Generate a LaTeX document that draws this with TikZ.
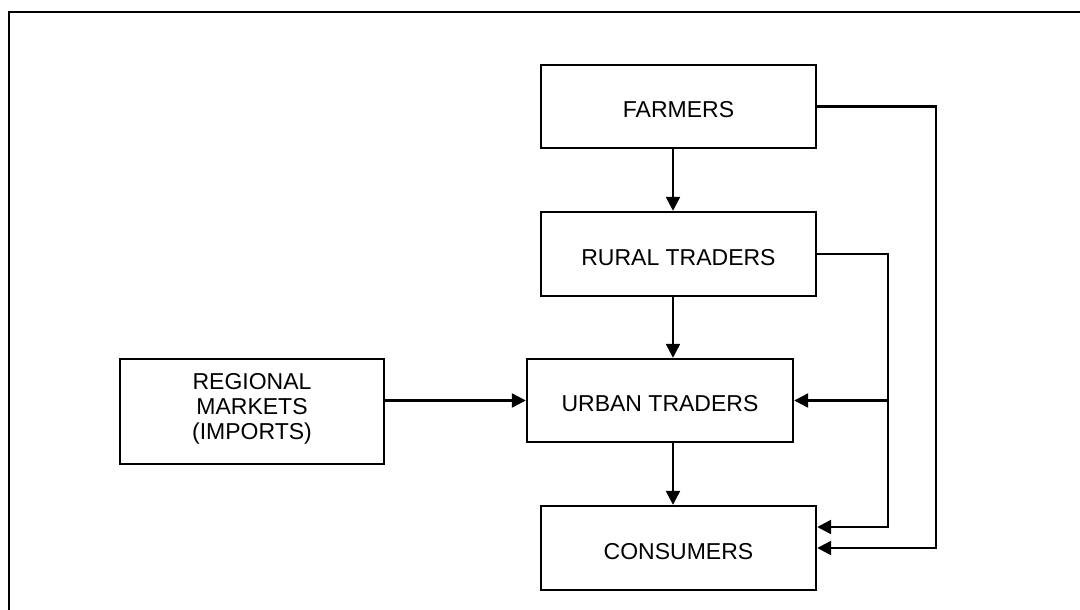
\documentclass[tikz,border=0pt]{standalone}
\usepackage{fontspec}
\setmainfont{Liberation Sans}
\usetikzlibrary{arrows.meta}
\begin{document}
\begin{tikzpicture}[x=1pt,y=-1pt,
  box/.style={draw, line width=2.4pt, rectangle, inner sep=0pt,
    font=\fontsize{23}{25}\selectfont, text height=22.4pt, text depth=0pt},
  multibox/.style={draw, line width=2.4pt, rectangle, inner sep=0pt, align=center,
    font=\fontsize{23}{25}\selectfont},
  arr/.style={line width=2.4pt, -{Triangle[length=14pt,width=14pt]}}]
  % page size and the open frame along the top and left edges
  \useasboundingbox (0,0) rectangle (1080,610);
  \begin{scope}
    \clip (0,0) rectangle (1080,610);
    \draw[line width=2.8pt] (9,640) -- (9,12) -- (1100,12);
  \end{scope}

  % boxes of the marketing chain
  \node[box, minimum width=275pt, minimum height=83pt] (f) at (678.5,106.5) {FARMERS};
  \node[box, minimum width=275pt, minimum height=84pt] (r) at (678.5,254) {RURAL TRADERS};
  \node[box, minimum width=266pt, minimum height=83pt] (u) at (660,400.5) {URBAN TRADERS};
  \node[box, minimum width=275pt, minimum height=84pt] (c) at (678.5,548) {CONSUMERS};
  \node[multibox, minimum width=264pt, minimum height=105pt] (g) at (252,411.5) {};
  \node[font=\fontsize{23}{25}\selectfont, align=center, inner sep=0pt, anchor=north]
    (gt) at ([yshift=38pt]g.center) {REGIONAL\\MARKETS\\(IMPORTS)};

  % guide positions for the vertical runs
  \coordinate (ax) at (673,0);
  \coordinate (rx) at (888,0);
  \coordinate (fx) at (936,0);
  \coordinate (cr) at ([yshift=21pt]c.east);

  % main chain
  \draw[arr] (f.south -| ax) -- (r.north -| ax);
  \draw[arr] (r.south -| ax) -- (u.north -| ax);
  \draw[arr] (u.south -| ax) -- (c.north -| ax);

  % imports into urban traders
  \draw[arr] (g.east |- u.west) -- (u.west);

  % rural traders bypass
  \draw[arr] (r.east) -| (rx |- cr) -- (cr);
  \draw[arr] (rx |- u.east) -- (u.east);

  % farmers direct to consumers
  \draw[arr] (f.east) -| (fx |- c.east) -- (c.east);
\end{tikzpicture}
\end{document}
